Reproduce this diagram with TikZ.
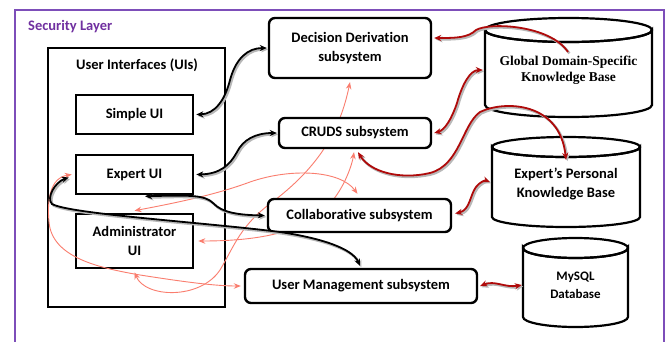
\documentclass[tikz,border=0pt]{standalone}
\usepackage{fontspec}
\setmainfont{Carlito}[Ligatures=NoCommon]
\newfontfamily\kbserif{Liberation Serif}
\usetikzlibrary{arrows.meta}
\pgfdeclarelayer{bottom}
\pgfdeclarelayer{mid}
\pgfsetlayers{bottom,mid,main}
\definecolor{frm}{RGB}{125,78,185}
\definecolor{seclbl}{RGB}{112,48,160}
\definecolor{dred}{RGB}{175,10,10}
\definecolor{salm}{RGB}{250,125,110}
\begin{document}
\begin{tikzpicture}[x=1pt,y=-1pt,
  txt/.style={font=\fontsize{14.5}{19.5}\selectfont\bfseries, align=center, inner sep=0pt},
  uibox/.style={txt, draw, line width=2.6pt, fill=white, minimum width=117pt},
  subbox/.style={txt, draw, line width=2.4pt, rounded corners=6pt, fill=white},
  cylline/.style={draw, line width=2.2pt, fill=white},
  kbnode/.style={txt, inner sep=0pt},
  shd/.style={preaction={draw=black!28, line width=2.4pt, transform canvas={xshift=1.4pt,yshift=-1.4pt}}},
  blk/.style={shd, draw=black, line width=1.8pt, {Stealth[length=7pt,width=6pt]}-{Stealth[length=7pt,width=6pt]}},
  rdl/.style={shd, draw=dred, line width=1.8pt, {Stealth[length=7pt,width=6pt]}-{Stealth[length=7pt,width=6pt]}},
  rdone/.style={shd, draw=dred, line width=1.8pt, {Stealth[length=7pt,width=6pt]}-},
  sal/.style={draw=salm, line width=0.9pt, {Stealth[length=7pt,width=5.5pt]}-{Stealth[length=7pt,width=5.5pt]}},
]
\useasboundingbox (0,0) rectangle (665,341);
\clip (0,0) rectangle (665,341);

\begin{pgfonlayer}{bottom}
\fill[white] (0,0) rectangle (665,341);
\draw[frm, line width=2.6pt] (15,360) -- (15,10) -- (664,10) -- (664,360);
\node[draw, line width=2.6pt, fill=white, minimum width=177pt, minimum height=259pt, inner sep=0pt] (uis) at (136.5,177.5) {};
\end{pgfonlayer}

\node[txt, text=seclbl, anchor=west] (sec) at (28,27) {Security Layer};
\node[txt] (uititle) at (137,65) {User Interfaces (UIs)};

% subsystems
\node[subbox, minimum width=162pt, minimum height=60pt] (dd) at (350,48) {Decision Derivation\\subsystem};
\node[subbox, minimum width=152pt, minimum height=30pt] (cruds) at (355,133) {CRUDS subsystem};
\node[subbox, minimum width=183pt, minimum height=33pt] (collab) at (359.5,215.5) {Collaborative subsystem};
\node[subbox, minimum width=232pt, minimum height=34pt] (um) at (361,286) {User Management subsystem};

\begin{pgfonlayer}{mid}
\node[uibox, minimum height=39pt] (simple) at (134.5,114.5) {Simple UI};
\node[uibox, minimum height=39pt] (expert) at (134.5,174.5) {Expert UI};
\node[uibox, minimum height=54pt] (admin) at (134.5,241) {Administrator\\UI};
% salmon connectors (behind subsystem boxes)
\draw[sal] ([yshift=2pt]admin.north) .. controls (175,203) and (215,195) .. (250,182)
  .. controls (290,168) and (340,170) .. ([xshift=-2pt,yshift=4pt]collab.north);
\draw[sal] ([yshift=-3pt]admin.south) .. controls (145,298) and (200,300) .. (220,270)
  .. controls (235,245) and (240,225) .. (275,200)
  .. controls (320,165) and (340,130) .. ([yshift=-3pt]dd.south);
\draw[sal] ([xshift=4pt]admin.east) .. controls (260,241) and (310,232) .. (333,200)
  .. controls (345,185) and (352,165) .. ([xshift=-1pt,yshift=-3pt]cruds.south);
\draw[sal] ([xshift=-3pt]expert.west) .. controls (50,178) and (47,200) .. (49,222)
  .. controls (52,258) and (100,268) .. (140,275)
  .. controls (185,282) and (215,286) .. ([xshift=-3pt]um.west);
\end{pgfonlayer}

% cylinders
\path[cylline] (485,30) -- (485,105) arc[start angle=180,end angle=0,x radius=83.5,y radius=12]
  -- (652,30) arc[start angle=0,end angle=180,x radius=83.5,y radius=12] -- cycle;
\draw[line width=2.2pt] (568.5,30) ellipse[x radius=83.5,y radius=12];
\node[kbnode, minimum width=167pt, minimum height=99pt, font=\kbserif\fontsize{13.5}{15.5}\selectfont\bfseries] (glob) at (568.5,70) {Global Domain-Specific\\Knowledge Base};

\path[cylline] (492,147) -- (492,217) arc[start angle=180,end angle=0,x radius=74,y radius=10]
  -- (640,147) arc[start angle=0,end angle=180,x radius=74,y radius=10] -- cycle;
\draw[line width=2.2pt] (566,147) ellipse[x radius=74,y radius=10];
\node[kbnode, minimum width=148pt, minimum height=90pt] (expkb) at (566,184) {Expert’s Personal\\Knowledge Base};

\path[cylline] (523,248) -- (523,317) arc[start angle=180,end angle=0,x radius=52.5,y radius=10]
  -- (628,248) arc[start angle=0,end angle=180,x radius=52.5,y radius=10] -- cycle;
\draw[line width=2.2pt] (575.5,248) ellipse[x radius=52.5,y radius=10];
\node[kbnode, minimum width=105pt, minimum height=89pt, font=\fontsize{13}{18}\selectfont\bfseries] (mysql) at (575.5,285) {MySQL\\Database};

\coordinate (globin) at (568,52);

% black connectors
\draw[blk] ([xshift=2pt]simple.east) .. controls (215,114) and (225,100) .. (230,80)
  .. controls (236,58) and (248,48) .. ([xshift=-1pt]dd.west);
\draw[blk] ([xshift=2pt]expert.east) .. controls (220,174) and (230,165) .. (237,152)
  .. controls (243,140) and (255,133) .. ([xshift=-1pt]cruds.west);
\draw[blk] ([xshift=10.5pt,yshift=-1pt]expert.south) .. controls (190,195) and (205,195) .. (213,203)
  .. controls (222,213) and (240,215) .. ([xshift=-2pt]collab.west);
\draw[blk] ([xshift=-6pt,yshift=-3pt]expert.west) .. controls (55,182) and (46,198) .. (52,204)
  .. controls (70,214) and (200,222) .. (280,232)
  .. controls (320,238) and (352,248) .. ([xshift=-1pt,yshift=2pt]um.north);

% dark red connectors
\draw[rdone] ([xshift=2pt,yshift=10pt]dd.east) .. controls (455,38) and (468,38) .. (476,30)
  .. controls (490,22) and (550,25) .. (globin);
\draw[rdl] ([xshift=2pt]cruds.east) .. controls (445,130) and (452,118) .. (457,103)
  .. controls (462,85) and (470,70) .. ([xshift=-2pt]glob.west);
\draw[rdl] ([xshift=3pt,yshift=-3pt]cruds.south) .. controls (370,172) and (400,180) .. (430,173)
  .. controls (460,165) and (462,125) .. (480,112)
  .. controls (505,100) and (560,102) .. ([yshift=-21pt]expkb.north);
\draw[rdl] ([xshift=3pt,yshift=2pt]collab.east) .. controls (470,210) and (470,195) .. (476,187)
  .. controls (480,182) and (485,180) .. ([xshift=-2pt,yshift=2pt]expkb.west);
\draw[rdl] ([xshift=2pt]um.east) .. controls (495,280) and (505,288) .. ([xshift=-1pt]mysql.west);
\end{tikzpicture}
\end{document}
